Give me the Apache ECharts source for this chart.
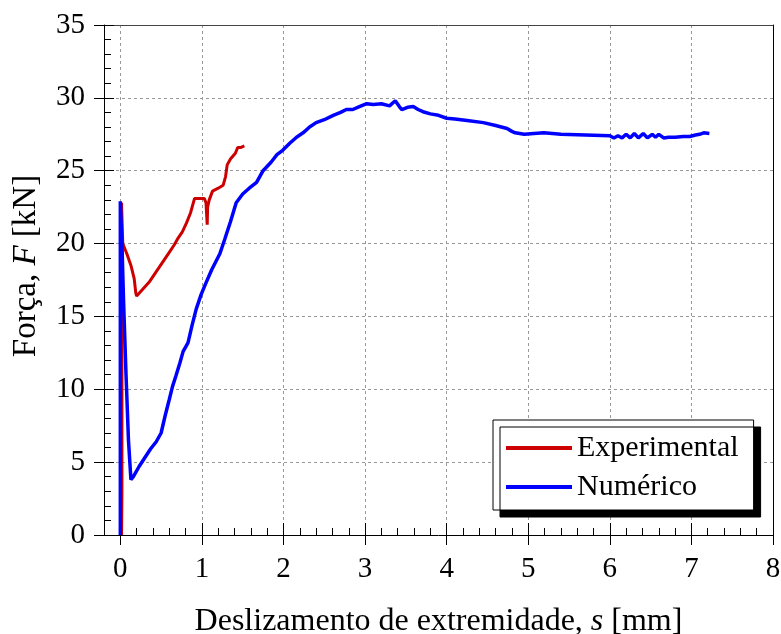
<!DOCTYPE html>
<html>
<head>
<meta charset="utf-8">
<script src="https://cdn.jsdelivr.net/npm/echarts@6/dist/echarts.min.js"></script>
<style>html,body{margin:0;padding:0;background:#fff}#c{width:781px;height:634px}</style>
</head>
<body>
<div id="c"></div>
<script>
const xTickValues = [0, 1, 2, 3, 4, 5, 6, 7, 8];
const expX = [0.015, 0.02, 0.02, 0.015, 0.03, 0.08, 0.13, 0.17, 0.19, 0.2, 0.28, 0.36, 0.42, 0.48, 0.54, 0.6, 0.66, 0.7, 0.76, 0.81, 0.86, 0.91, 0.97, 1.03, 1.05, 1.065, 1.07, 1.09, 1.13, 1.2, 1.26, 1.29, 1.31, 1.35, 1.41, 1.44, 1.48, 1.52];
const expY = [0, 2.9, 10, 22.8, 20.0, 19.3, 18.5, 17.6, 16.6, 16.4, 16.9, 17.4, 17.9, 18.4, 18.9, 19.4, 19.9, 20.3, 20.8, 21.4, 22.1, 23.1, 23.1, 23.1, 22.8, 21.3, 22.5, 23.0, 23.6, 23.8, 24.0, 24.6, 25.4, 25.8, 26.2, 26.6, 26.6, 26.7];
const numX = [0.0, 0.0, 0.02, 0.04, 0.07, 0.1, 0.13, 0.16, 0.23, 0.3, 0.37, 0.44, 0.5, 0.55, 0.6, 0.64, 0.68, 0.73, 0.77, 0.8, 0.83, 0.88, 0.93, 0.99, 1.05, 1.12, 1.22, 1.28, 1.35, 1.42, 1.5, 1.58, 1.67, 1.75, 1.85, 1.92, 1.99, 2.08, 2.16, 2.24, 2.32, 2.40, 2.5, 2.61, 2.7, 2.77, 2.85, 2.93, 3.02, 3.1, 3.2, 3.3, 3.37, 3.42, 3.45, 3.52, 3.59, 3.65, 3.71, 3.8, 3.9, 4.0, 4.1, 4.25, 4.45, 4.6, 4.74, 4.8, 4.84, 4.95, 5.19, 5.4, 5.7, 6.0, 6.05, 6.1, 6.15, 6.2, 6.25, 6.3, 6.35, 6.41, 6.46, 6.52, 6.56, 6.6, 6.66, 6.72, 6.8, 6.9, 6.98, 7.05, 7.1, 7.15, 7.22];
const numY = [0, 22.9, 20, 16, 11, 6.5, 3.8, 4.0, 4.7, 5.3, 5.9, 6.4, 7.0, 8.2, 9.3, 10.2, 10.9, 11.8, 12.6, 12.9, 13.2, 14.4, 15.5, 16.5, 17.3, 18.2, 19.3, 20.3, 21.5, 22.8, 23.4, 23.8, 24.2, 25.0, 25.6, 26.1, 26.4, 26.9, 27.3, 27.6, 28.0, 28.3, 28.5, 28.8, 29.0, 29.2, 29.2, 29.4, 29.6, 29.55, 29.6, 29.45, 29.8, 29.4, 29.2, 29.35, 29.4, 29.2, 29.05, 28.9, 28.8, 28.6, 28.55, 28.45, 28.3, 28.1, 27.9, 27.7, 27.6, 27.5, 27.6, 27.5, 27.45, 27.4, 27.25, 27.4, 27.25, 27.5, 27.25, 27.55, 27.25, 27.55, 27.25, 27.5, 27.3, 27.5, 27.25, 27.3, 27.3, 27.35, 27.35, 27.45, 27.5, 27.6, 27.55];

const FONT = 'Liberation Serif, Times New Roman, serif';
const zip = (a, b) => a.map((v, i) => [v, b[i]]);
const chart = echarts.init(document.getElementById('c'), null, {renderer: 'canvas'});
const baseX = {type: 'value', min: -0.2, max: 8, gridIndex: 0};
chart.setOption({
  animation: false,
  backgroundColor: '#fff',
  grid: {left: 104, right: 8, top: 25, bottom: 99, containLabel: false, outerBoundsMode: 'none'},
  xAxis: [
    Object.assign({}, baseX, {
      position: 'bottom',
      name: '{a|Deslizamento de extremidade, }{i|s}{a| [mm]}',
      nameLocation: 'middle', nameGap: 71,
      nameTextStyle: {rich: {a: {fontFamily: FONT, fontSize: 32, color: '#000'}, i: {fontFamily: FONT, fontSize: 32, fontStyle: 'italic', color: '#000'}}},
      axisLine: {show: true, onZero: false, lineStyle: {color: '#000', width: 1}},
      axisTick: {show: true, inside: false, length: 10, customValues: xTickValues, lineStyle: {color: '#000'}},
      axisLabel: {show: true, customValues: xTickValues, margin: 20, fontFamily: FONT, fontSize: 29, color: '#000'},
      splitLine: {show: true, lineStyle: {color: '#999', type: [3, 3], width: 1}}
    }),
    Object.assign({}, baseX, {
      position: 'bottom',
      axisLine: {show: false, onZero: false},
      axisTick: {show: true, inside: true, length: 12, customValues: xTickValues, lineStyle: {color: '#000'}},
      axisLabel: {show: false}, splitLine: {show: false}
    }),
    Object.assign({}, baseX, {
      position: 'bottom', interval: 0.2,
      axisLine: {show: false, onZero: false},
      axisTick: {show: true, inside: true, length: 7, lineStyle: {color: '#000'}},
      axisLabel: {show: false}, splitLine: {show: false}
    }),
    Object.assign({}, baseX, {
      position: 'top',
      axisLine: {show: true, onZero: false, lineStyle: {color: '#444', width: 1}},
      axisTick: {show: false}, axisLabel: {show: false}, splitLine: {show: false}
    })
  ],
  yAxis: [
    {
      type: 'value', min: 0, max: 35, interval: 5, position: 'left',
      name: '{a|Força, }{i|F}{a| [kN]}',
      nameLocation: 'middle', nameGap: 61, nameRotate: 90,
      nameTextStyle: {padding: [0, 0, 0, 28], rich: {a: {fontFamily: FONT, fontSize: 33, color: '#000'}, i: {fontFamily: FONT, fontSize: 33, fontStyle: 'italic', color: '#000'}}},
      axisLine: {show: true, onZero: false, lineStyle: {color: '#000', width: 1}},
      axisTick: {show: true, inside: false, length: 10, lineStyle: {color: '#000'}},
      axisLabel: {show: true, margin: 19, fontFamily: FONT, fontSize: 29, color: '#000'},
      splitLine: {show: true, lineStyle: {color: '#999', type: [3, 3], width: 1}}
    },
    {
      type: 'value', min: 0, max: 35, interval: 5, position: 'left',
      axisLine: {show: false, onZero: false},
      axisTick: {show: true, inside: true, length: 10, lineStyle: {color: '#000'}},
      minorTick: {show: true, splitNumber: 5, length: 7, lineStyle: {color: '#000'}},
      axisLabel: {show: false}, splitLine: {show: false}
    },
    {
      type: 'value', min: 0, max: 35, interval: 5, position: 'right',
      axisLine: {show: true, onZero: false, lineStyle: {color: '#000', width: 1}},
      axisTick: {show: false}, axisLabel: {show: false}, splitLine: {show: false}
    }
  ],
  legend: {
    left: 493, top: 420, orient: 'vertical',
    backgroundColor: '#fff', borderColor: '#000', borderWidth: 1, borderRadius: 0,
    padding: [13, 15, 8, 13],
    shadowColor: '#000', shadowBlur: 0, shadowOffsetX: 7, shadowOffsetY: 7,
    itemWidth: 66, itemHeight: 4, itemGap: 9,
    textStyle: {fontFamily: FONT, fontSize: 30, color: '#000', lineHeight: 30},
    data: [{name: 'Experimental', icon: 'rect'}, {name: 'Numérico', icon: 'rect'}]
  },
  series: [
    {name: 'Experimental', type: 'line', xAxisIndex: 0, yAxisIndex: 0, data: zip(expX, expY), showSymbol: false, symbol: 'none', lineStyle: {color: '#cc0000', width: 3}, itemStyle: {color: '#cc0000'}, z: 3},
    {name: 'Numérico', type: 'line', xAxisIndex: 0, yAxisIndex: 0, data: zip(numX, numY), showSymbol: false, symbol: 'none', lineStyle: {color: '#0000ff', width: 3.5}, itemStyle: {color: '#0000ff'}, z: 4}
  ]
});
</script>
</body>
</html>
